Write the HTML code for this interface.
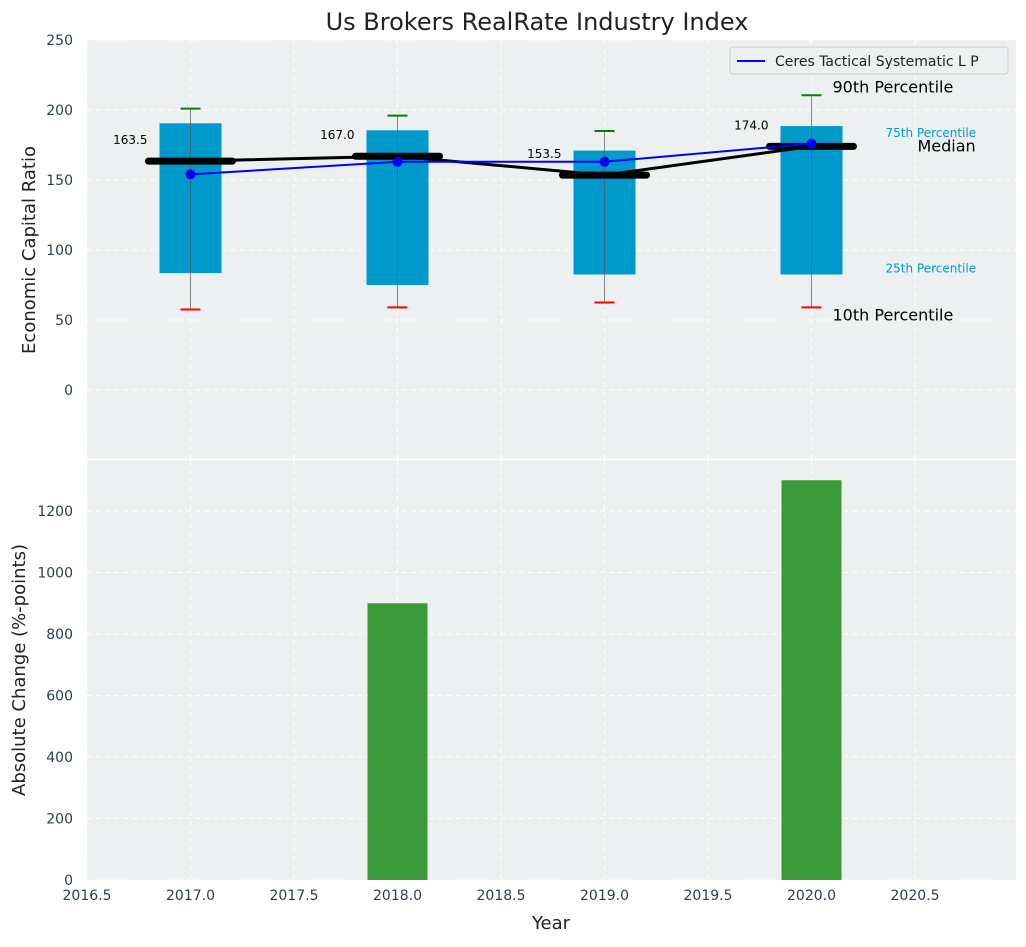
<!DOCTYPE html>
<html><head><meta charset="utf-8"><style>
body{margin:0;background:#fff;font-family:"Liberation Sans","DejaVu Sans",sans-serif}
svg text{font-family:"DejaVu Sans","Liberation Sans",sans-serif}
</style></head><body>
<svg id="c" width="1026" height="942"></svg>
<script>
const years=[2017,2018,2019,2020];
const p10=[57.5,59,62.5,59];
const p25=[83.5,75,82.5,82.5];
const p75=[190.5,185.5,171,188.5];
const p90=[201,196,185,210.5];
const medians=[163.5,167.0,153.5,174.0];
const companyVals=[154,163,163,176];
const changeVals=[0,900,0,1300];
const xTicks=[2016.5,2017.0,2017.5,2018.0,2018.5,2019.0,2019.5,2020.0,2020.5];
const yTopTicks=[0,50,100,150,200,250];
const yBotTicks=[0,200,400,600,800,1000,1200];

const NS='http://www.w3.org/2000/svg';
const svg=document.getElementById('c');
function el(t,a,p){const e=document.createElementNS(NS,t);for(const k in a)e.setAttribute(k,a[k]);(p||svg).appendChild(e);return e;}
function tx(x,y,s,a){const e=el('text',Object.assign({x:x,y:y},a));e.textContent=s;return e;}
const L=87,R=1016,T1=40,B1=459,T2=460,B2=880;
const X=v=>L+(v-2016.5)*207;
const Y1=v=>390-v*1.4;
const Y2=v=>B2-v*0.3075;

let p=el('rect',{x:L,y:T1,width:R-L,height:B1-T1,fill:'#ecf0f1'});

p=el('rect',{x:L,y:T2,width:R-L,height:B2-T2,fill:'#ecf0f1'});

xTicks.forEach(v=>{
  el('line',{x1:X(v),x2:X(v),y1:T1,y2:B1,stroke:'#fff','stroke-dasharray':'5,4','stroke-width':1});
  el('line',{x1:X(v),x2:X(v),y1:T2,y2:B2,stroke:'#fff','stroke-dasharray':'5,4','stroke-width':1});
  const t=tx(X(v),900,v.toFixed(1),{'font-size':14,fill:'#2c3e50','text-anchor':'middle'});
  
});
yTopTicks.forEach(v=>{
  el('line',{x1:L,x2:R,y1:Y1(v),y2:Y1(v),stroke:'#fff','stroke-dasharray':'5,4'});
  const t=tx(73,Y1(v)+5,v,{'font-size':14,fill:'#2c3e50','text-anchor':'end'});
  
});
yBotTicks.forEach(v=>{
  el('line',{x1:L,x2:R,y1:Y2(v),y2:Y2(v),stroke:'#fff','stroke-dasharray':'5,4'});
  const t=tx(73,Y2(v)+5,v,{'font-size':14,fill:'#2c3e50','text-anchor':'end'});
  
});
el('line',{x1:L,x2:R,y1:459.5,y2:459.5,stroke:'#fff','stroke-width':2});

years.forEach((yr,i)=>{
  const cx=X(yr);
  const b=el('rect',{x:cx-31,y:Y1(p75[i]),width:62,height:Y1(p25[i])-Y1(p75[i]),fill:'#0099cc'});
  
  el('line',{x1:cx,x2:cx,y1:Y1(p90[i]),y2:Y1(p10[i]),stroke:'#555','stroke-opacity':0.7,'stroke-width':1});
  el('line',{x1:cx-10,x2:cx+10,y1:Y1(p90[i]),y2:Y1(p90[i]),stroke:'green','stroke-width':2});
  el('line',{x1:cx-10,x2:cx+10,y1:Y1(p10[i]),y2:Y1(p10[i]),stroke:'red','stroke-width':2});
});
let d=years.map((yr,i)=>(i?'L':'M')+X(yr)+','+Y1(medians[i])).join(' ');
let m=el('path',{d:d,fill:'none',stroke:'#000','stroke-width':3});

years.forEach((yr,i)=>{
  const s=el('line',{x1:X(yr)-42,x2:X(yr)+42,y1:Y1(medians[i]),y2:Y1(medians[i]),stroke:'#000','stroke-width':7,'stroke-linecap':'round'});
  
  const t=tx(X(yr)-43,Y1(medians[i])-17,medians[i].toFixed(1),{'font-size':12,fill:'#000','text-anchor':'end'});
  
});
d=years.map((yr,i)=>(i?'L':'M')+X(yr)+','+Y1(companyVals[i])).join(' ');
m=el('path',{d:d,fill:'none',stroke:'blue','stroke-width':2});

years.forEach((yr,i)=>{
  const c=el('circle',{cx:X(yr),cy:Y1(companyVals[i]),r:5,fill:'blue'});
  
});
const lx=X(2020);
[[lx+21,Y1(p90[3])-3,'90th Percentile',16,'#000'],[lx+74,Y1(p75[3])+11,'75th Percentile',12,'#0099cc'],
 [lx+106,Y1(medians[3])+5,'Median',16,'#000'],[lx+74,Y1(p25[3])-2,'25th Percentile',12,'#0099cc'],
 [lx+21,Y1(p10[3])+13,'10th Percentile',16,'#000']].forEach(a=>{
  const t=tx(a[0],a[1],a[2],{'font-size':a[3],fill:a[4]});
  
});
years.forEach((yr,i)=>{
  if(!changeVals[i])return;
  const b=el('rect',{x:X(yr)-30,y:Y2(changeVals[i]),width:60,height:B2-Y2(changeVals[i]),fill:'#3a9a3a'});
  
});
const lg=el('g',{});

el('rect',{x:730,y:47,width:278,height:27,rx:3,fill:'#ecf0f1',stroke:'#ccc'},lg);
el('line',{x1:737,x2:765,y1:61,y2:61,stroke:'blue','stroke-width':2},lg);
tx(775,66,'Ceres Tactical Systematic L P',{'font-size':14,fill:'#222'},lg);
let t=tx(537,30,'Us Brokers RealRate Industry Index',{'font-size':24,fill:'#222','text-anchor':'middle'});

t=tx(551,929,'Year',{'font-size':18,fill:'#222','text-anchor':'middle'});

t=tx(35,250,'Economic Capital Ratio',{'font-size':18,fill:'#222','text-anchor':'middle',transform:'rotate(-90 35 250)'});

t=tx(25,670,'Absolute Change (%-points)',{'font-size':18,fill:'#222','text-anchor':'middle',transform:'rotate(-90 25 670)'});

</script>
</body></html>
